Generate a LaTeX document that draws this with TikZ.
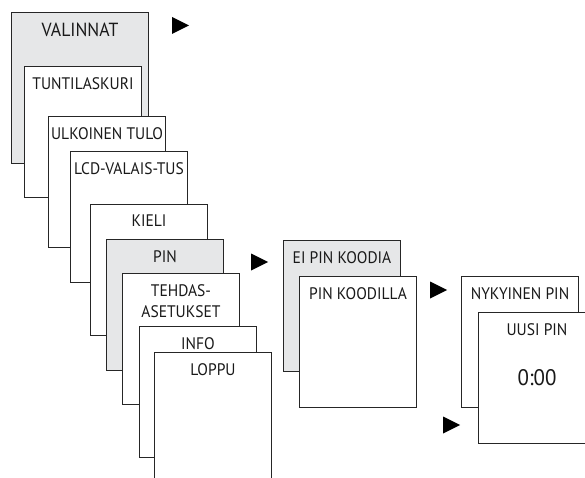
\documentclass[tikz,border=0pt]{standalone}
\usepackage{fontspec}
\setmainfont{PT Sans}[FakeStretch=0.93]
\usepackage{tikz}
\usetikzlibrary{positioning}
\definecolor{menugray}{RGB}{230,231,232}
\tikzset{
  menu/.style={draw=black!85, line width=1pt, fill=white, anchor=north west,
    minimum width=117pt, minimum height=131pt, inner sep=0pt},
  sel/.style={menu, fill=menugray},
  txt/.style={inner sep=0pt, align=center, text=black!90,
    font=\fontsize{16.7}{21}\selectfont}
}

\begin{document}
\begin{tikzpicture}[x=1pt,y=-1pt]
  \clip (0,0) rectangle (585,478);
  % main menu
  \node[sel, minimum width=137pt, minimum height=151pt] (valinnat) at (11,12) {};
  \node[txt, font=\fontsize{19}{22}\selectfont, below=10.7pt of valinnat.north]
       (valinnat-t) {VALINNAT};
  \node[menu] (tunti) at (24,66) {};
  \node[txt, below=11pt of tunti.north] (tunti-t) {TUNTILASKURI};
  \node[menu] (ulko) at (48,116) {};
  \node[txt, below=11pt of ulko.north] (ulko-t) {ULKOINEN TULO};
  \node[menu] (lcd) at (70,151) {};
  \node[txt, below=11pt of lcd.north] (lcd-t) {LCD-VALAIS-TUS};
  \node[menu] (kieli) at (90,204) {};
  \node[txt, below=11pt of kieli.north] (kieli-t) {KIELI};
  \node[sel] (pin) at (106,239) {};
  \node[txt, below=11pt of pin.north] (pin-t) {PIN};
  \node[menu] (tehdas) at (122,273) {};
  \node[txt, below=11pt of tehdas.north] (tehdas-t) {TEHDAS-\\ASETUKSET};
  \node[menu] (info) at (139,326) {};
  \node[txt, below=11pt of info.north] (info-t) {INFO};
  \node[menu] (loppu) at (154,352) {};
  \node[txt, below=11pt of loppu.north] (loppu-t) {LOPPU};
  % pin submenu
  \node[sel] (eipin) at (283,240) {};
  \node[txt, below=11pt of eipin.north] (eipin-t) {EI PIN KOODIA};
  \node[menu] (koodilla) at (299,276) {};
  \node[txt, below=11pt of koodilla.north] (koodilla-t) {PIN KOODILLA};
  \node[menu] (nyky) at (461,276) {};
  \node[txt, below=11pt of nyky.north] (nyky-t) {NYKYINEN PIN};
  \node[menu] (uusi) at (478,312) {};
  \node[txt, below=11pt of uusi.north] (uusi-t) {UUSI PIN};
  \node[txt, font=\fontsize{22.5}{26}\selectfont] (uusi-v) at (uusi.center) {0:00};
  % arrows
  \foreach \x/\y in {172/25.5, 251/262, 430/290, 443/425}
    \fill (\x,\y-8.5) -- ++(17,8.5) -- ++(-17,8.5) -- cycle;
\end{tikzpicture}
\end{document}
